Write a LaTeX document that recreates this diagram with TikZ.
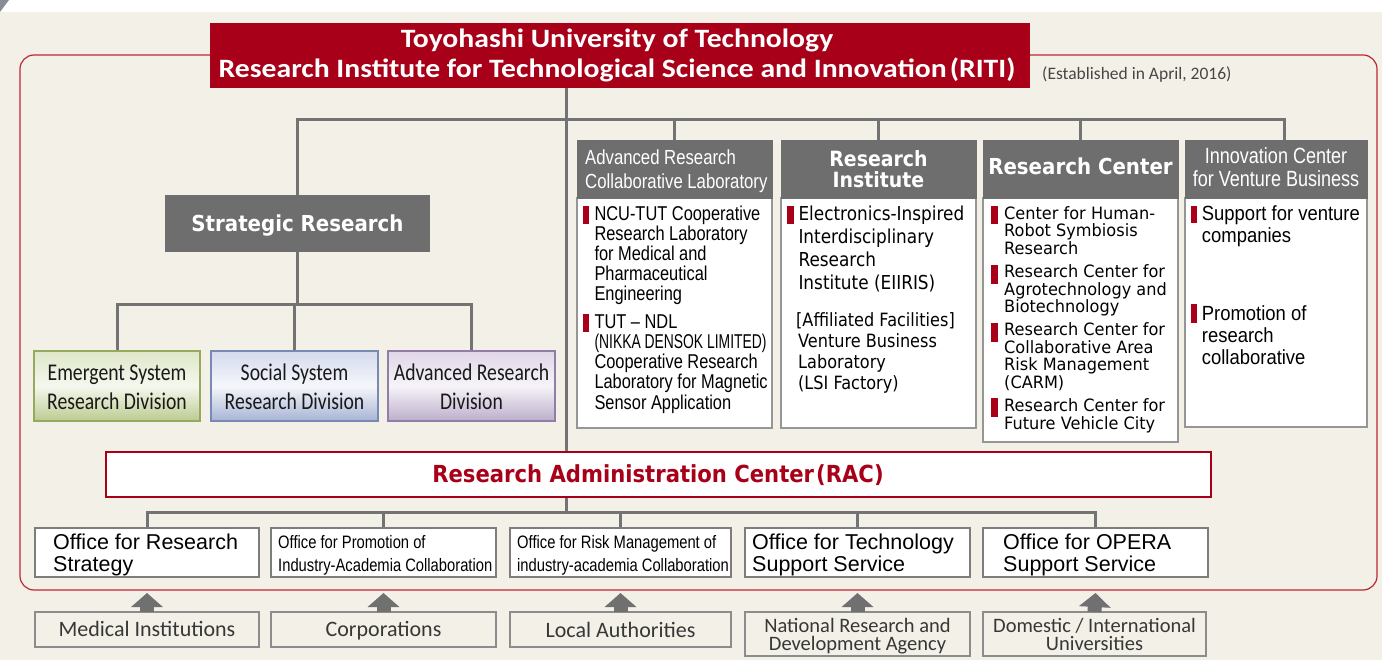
\documentclass[tikz,border=0pt]{standalone}
\usepackage{fontspec}
\usepackage{graphicx}
\usetikzlibrary{arrows.meta}
\newfontfamily\fTitle[FakeStretch=1.12]{Carlito}
\newfontfamily\fCal{Carlito}
\newfontfamily\fCalN[FakeStretch=0.82]{Carlito}
\newfontfamily\fNar[FakeStretch=0.82]{Liberation Sans}
\newfontfamily\fAri{Liberation Sans}
\newfontfamily\fAriN[FakeStretch=0.9]{Liberation Sans}
\newfontfamily\fDvs[FakeStretch=0.88]{DejaVu Sans}
\newfontfamily\fDvr[FakeStretch=0.95]{DejaVu Sans}
\newfontfamily\fDvb[FakeStretch=0.9]{DejaVu Sans}
\definecolor{riti}{RGB}{168,0,24}
\definecolor{bg}{RGB}{243,240,232}
\definecolor{hdr}{RGB}{110,110,110}
\definecolor{ln}{RGB}{115,115,115}
\definecolor{bdr}{RGB}{150,150,150}
\definecolor{offb}{RGB}{125,125,125}
\definecolor{srcb}{RGB}{140,140,140}
\definecolor{arrg}{RGB}{112,112,112}
\definecolor{framec}{RGB}{190,40,50}
\definecolor{estg}{RGB}{70,70,70}
\definecolor{srct}{RGB}{55,55,55}
\definecolor{topg}{RGB}{135,140,150}
\definecolor{divt}{RGB}{25,25,25}
\definecolor{eB}{RGB}{150,170,95}\definecolor{eT}{RGB}{222,231,200}\definecolor{eM}{RGB}{245,247,238}\definecolor{eBo}{RGB}{188,203,145}
\definecolor{sB}{RGB}{120,138,180}\definecolor{sT}{RGB}{212,218,237}\definecolor{sM}{RGB}{246,247,252}\definecolor{sBo}{RGB}{168,180,212}
\definecolor{aB}{RGB}{145,125,165}\definecolor{aT}{RGB}{224,214,232}\definecolor{aM}{RGB}{246,243,248}\definecolor{aBo}{RGB}{188,174,203}
\newcommand\cpar[3]{\parbox[t]{#1}{\centering#2#3}}
\newcommand\lpar[3]{\parbox[t]{#1}{\raggedright#2#3}}
\pgfdeclarelayer{back}
\pgfdeclarelayer{links}
\pgfsetlayers{back,links,main}
\tikzset{
 bx/.style={inner sep=0pt, outer sep=0pt, anchor=north west},
 conn/.style={draw=ln, line width=3pt, line cap=rect},
 ct/.style={inner sep=0pt, anchor=base},
 lt/.style={inner sep=0pt, anchor=base west},
 hdrbox/.style={bx, fill=hdr, draw=hdr},
 bodybox/.style={bx, fill=white, draw=bdr, line width=1.5pt},
 offbox/.style={bx, fill=white, draw=offb, line width=2pt, minimum height=49pt},
 srcbox/.style={bx, fill=bg, draw=srcb, line width=2pt},
 divbox/.style={bx, line width=1.3pt, minimum height=70pt},
 bigarr/.style={draw=arrg, line width=14pt, -{Triangle[width=31pt,length=14pt]}},
}
\begin{document}
\begin{tikzpicture}[x=1pt,y=-1pt]
\useasboundingbox (0,0) rectangle (1382,660);
\begin{pgfonlayer}{back}
\fill[white] (0,0) rectangle (1382,12);
\fill[bg] (0,12) rectangle (1382,660);
\fill[topg] (0,0) -- (9,0) -- (0,12) -- cycle;
\draw[framec, line width=1.2pt, rounded corners=14pt] (20,55) rectangle (1377,590);
\end{pgfonlayer}
% junction coordinates
\coordinate (jA) at (566,120);
\coordinate (jR) at (1284,120);
\coordinate (jD) at (0,305);
\coordinate (jO) at (0,512);
% boxes
\node[bx, fill=riti, minimum width=820pt, minimum height=65pt] (tbox) at (210,23) {};
\node[bx, fill=hdr, minimum width=265pt, minimum height=57pt] (sr) at (165,195) {};
\node[divbox, draw=eB, top color=eT, bottom color=eBo, middle color=eM, minimum width=166pt] (dE) at (34,351) {};
\node[divbox, draw=sB, top color=sT, bottom color=sBo, middle color=sM, minimum width=167pt] (dS) at (211,351) {};
\node[divbox, draw=aB, top color=aT, bottom color=aBo, middle color=aM, minimum width=167pt] (dA) at (388,351) {};
\node[bodybox, minimum width=195pt, minimum height=230pt] (b1) at (577,198) {};
\node[bodybox, minimum width=195pt, minimum height=230pt] (b2) at (781,198) {};
\node[bodybox, minimum width=195pt, minimum height=244pt] (b3) at (983,198) {};
\node[bodybox, minimum width=182pt, minimum height=229pt] (b4) at (1185,198) {};
\node[hdrbox, minimum width=195pt, minimum height=58pt] (h1) at (577,140) {};
\node[hdrbox, minimum width=195pt, minimum height=58pt] (h2) at (781,140) {};
\node[hdrbox, minimum width=195pt, minimum height=58pt] (h3) at (983,140) {};
\node[hdrbox, minimum width=182pt, minimum height=58pt] (h4) at (1185,140) {};
\node[bx, fill=white, draw=riti, line width=2.5pt, minimum width=1105pt, minimum height=45pt] (rac) at (106,452) {};
\node[offbox, minimum width=224pt] (o1) at (35,528) {};
\node[offbox, minimum width=225pt] (o2) at (271,528) {};
\node[offbox, minimum width=221pt] (o3) at (510,528) {};
\node[offbox, minimum width=225pt] (o4) at (745,528) {};
\node[offbox, minimum width=225pt] (o5) at (983,528) {};
\node[srcbox, minimum width=224pt, minimum height=35pt] (s1) at (35,612) {};
\node[srcbox, minimum width=225pt, minimum height=35pt] (s2) at (271,612) {};
\node[srcbox, minimum width=221pt, minimum height=35pt] (s3) at (510,612) {};
\node[srcbox, minimum width=225pt, minimum height=44pt] (s4) at (745,612) {};
\node[srcbox, minimum width=223pt, minimum height=44pt] (s5) at (983,612) {};
% connectors (behind boxes)
\begin{pgfonlayer}{links}
\draw[conn] (tbox.south -| jA) -- (rac.north -| jA);
\draw[conn] (sr.north |- jA) -- (jR) -- (jR |- h4.north);
\draw[conn] (sr.north |- jA) -- (sr.north);
\foreach \h in {h1,h2,h3} \draw[conn] (\h.north |- jA) -- (\h.north);
\draw[conn] (sr.south) -- (sr.south |- jD);
\draw[conn] (dE.north |- jD) -- (dA.north |- jD);
\foreach \d in {dE,dS,dA} \draw[conn] (\d.north |- jD) -- (\d.north);
\draw[conn] (rac.south -| jA) -- (jO -| jA);
\draw[conn] (o1.north |- jO) -- (o5.north |- jO);
\foreach \o in {o1,o2,o3,o4,o5} \draw[conn] (\o.north |- jO) -- (\o.north);
\end{pgfonlayer}
% texts
\node[ct, text=white] (tt) at (617,47.5) {\cpar{820pt}{\fTitle\bfseries\fontsize{26.5}{30.5}\selectfont}{Toyohashi University of Technology\\Research Institute for Technological Science and Innovation\hspace{3pt}(RITI)}};
\node[lt, text=estg] (est) at (1042,80) {\fCal\fontsize{17.5}{20}\selectfont (Established in April, 2016)};
\node[ct, text=white] (srt) at (297.5,232) {\fDvb\bfseries\fontsize{22}{26}\selectfont Strategic Research};
\node[ct, text=divt] (dEt) at (117,381) {\cpar{164pt}{\fCalN\fontsize{24}{29}\selectfont}{Emergent System\\Research Division}};
\node[ct, text=divt] (dSt) at (294.5,381) {\cpar{164pt}{\fCalN\fontsize{24}{29}\selectfont}{Social System\\Research Division}};
\node[ct, text=divt] (dAt) at (471.5,381) {\cpar{164pt}{\fCalN\fontsize{24}{29}\selectfont}{Advanced Research\\Division}};
\node[lt, text=white] (h1t) at (585,165) {\lpar{190pt}{\fNar\fontsize{20.4}{23.5}\selectfont}{Advanced Research\\Collaborative Laboratory}};
\node[ct, text=white] (h2t) at (878.5,167) {\cpar{190pt}{\fDvb\bfseries\fontsize{21}{21}\selectfont}{Research\\Institute}};
\node[ct, text=white] (h3t) at (1080.5,175) {\fDvb\bfseries\fontsize{22}{26}\selectfont Research Center};
\node[ct, text=white] (h4t) at (1276,163.5) {\cpar{180pt}{\fNar\fontsize{22}{23.5}\selectfont}{Innovation Center\\for Venture Business}};
% bullets
\fill[riti] (582.7,206) rectangle (589.3,224);
\fill[riti] (582.7,314.3) rectangle (589.3,332.3);
\fill[riti] (787.3,206) rectangle (794,224);
\fill[riti] (991,206) rectangle (997.7,224);
\fill[riti] (991,265) rectangle (997.7,284);
\fill[riti] (991,323.3) rectangle (997.7,341.7);
\fill[riti] (991,398.3) rectangle (997.7,416.7);
\fill[riti] (1190.7,206) rectangle (1197,223);
\fill[riti] (1190.7,304) rectangle (1197,322.7);
% body texts
\node[lt] (b1a) at (594.3,220.7) {\lpar{178pt}{\fNar\fontsize{20}{20}\selectfont}{NCU-TUT Cooperative\\Research Laboratory\\for Medical and\\Pharmaceutical\\Engineering}};
\node[lt] (b1b) at (594.3,329) {\lpar{178pt}{\fNar\fontsize{20}{20}\selectfont}{TUT – NDL\\\resizebox{172pt}{\height}{(NIKKA DENSOK LIMITED)}\\Cooperative Research\\Laboratory for Magnetic\\Sensor Application}};
\node[lt] (b2a) at (798.3,221) {\lpar{178pt}{\fDvs\fontsize{19.2}{22.7}\selectfont}{Electronics-Inspired\\Interdisciplinary\\Research\\Institute (EIIRIS)}};
\node[lt] (b2b) at (796,326.7) {\lpar{178pt}{\fDvs\fontsize{18.3}{21}\selectfont}{[Affiliated Facilities]\\\hspace*{2pt}Venture Business\\\hspace*{2pt}Laboratory\\\hspace*{2pt}(LSI Factory)}};
\node[lt] (b3a) at (1004,219.3) {\lpar{172pt}{\fDvr\fontsize{17}{17.5}\selectfont}{Center for Human-\\Robot Symbiosis\\Research}};
\node[lt] (b3b) at (1004,277.7) {\lpar{172pt}{\fDvr\fontsize{17}{17.5}\selectfont}{Research Center for\\Agrotechnology and\\Biotechnology}};
\node[lt] (b3c) at (1004,336) {\lpar{172pt}{\fDvr\fontsize{17}{17.5}\selectfont}{Research Center for\\Collaborative Area\\Risk Management\\(CARM)}};
\node[lt] (b3d) at (1004,411.7) {\lpar{172pt}{\fDvr\fontsize{17}{17.5}\selectfont}{Research Center for\\Future Vehicle City}};
\node[lt] (b4a) at (1201.7,220.7) {\lpar{165pt}{\fAriN\fontsize{20.5}{21.5}\selectfont}{Support for venture\\companies}};
\node[lt] (b4b) at (1201.7,320.7) {\lpar{165pt}{\fAriN\fontsize{20.5}{22}\selectfont}{Promotion of\\research\\collaborative}};
\node[ct, text=riti] (ract) at (658,482.3) {\fDvb\bfseries\fontsize{23.5}{28}\selectfont Research Administration Center\hspace{2pt}(RAC)};
\node[lt] (o1t) at (53,549) {\lpar{220pt}{\fAri\fontsize{21.5}{22}\selectfont}{Office for Research\\Strategy}};
\node[lt] (o2t) at (278,548.3) {\lpar{220pt}{\fNar\fontsize{18}{22.7}\selectfont}{Office for Promotion of\\Industry-Academia Collaboration}};
\node[lt] (o3t) at (517,548.3) {\lpar{220pt}{\fNar\fontsize{18}{22.7}\selectfont}{Office for Risk Management of\\industry-academia Collaboration}};
\node[lt] (o4t) at (752,549) {\lpar{220pt}{\fAri\fontsize{21.5}{22}\selectfont}{Office for Technology\\Support Service}};
\node[lt] (o5t) at (1003,549) {\lpar{220pt}{\fAri\fontsize{21.5}{22}\selectfont}{Office for OPERA\\Support Service}};
\node[ct, text=srct] (s1t) at (147,636.7) {\fCal\fontsize{22}{22}\selectfont Medical Institutions};
\node[ct, text=srct] (s2t) at (383.5,636.7) {\fCal\fontsize{22}{22}\selectfont Corporations};
\node[ct, text=srct] (s3t) at (620.5,637.5) {\fCal\fontsize{22}{22}\selectfont Local Authorities};
\node[ct, text=srct] (s4t) at (857.5,632) {\cpar{222pt}{\fCal\fontsize{20.5}{18.5}\selectfont}{National Research and\\Development Agency}};
\node[ct, text=srct] (s5t) at (1094.5,632) {\cpar{222pt}{\fCal\fontsize{20.5}{18.5}\selectfont}{Domestic / International\\Universities}};
% arrows
\foreach \s/\o in {s1/o1,s2/o2,s3/o3,s4/o4,s5/o5}
  \draw[bigarr] (\s.north) -- ([yshift=-16pt]\o.south);
\end{tikzpicture}
\end{document}
